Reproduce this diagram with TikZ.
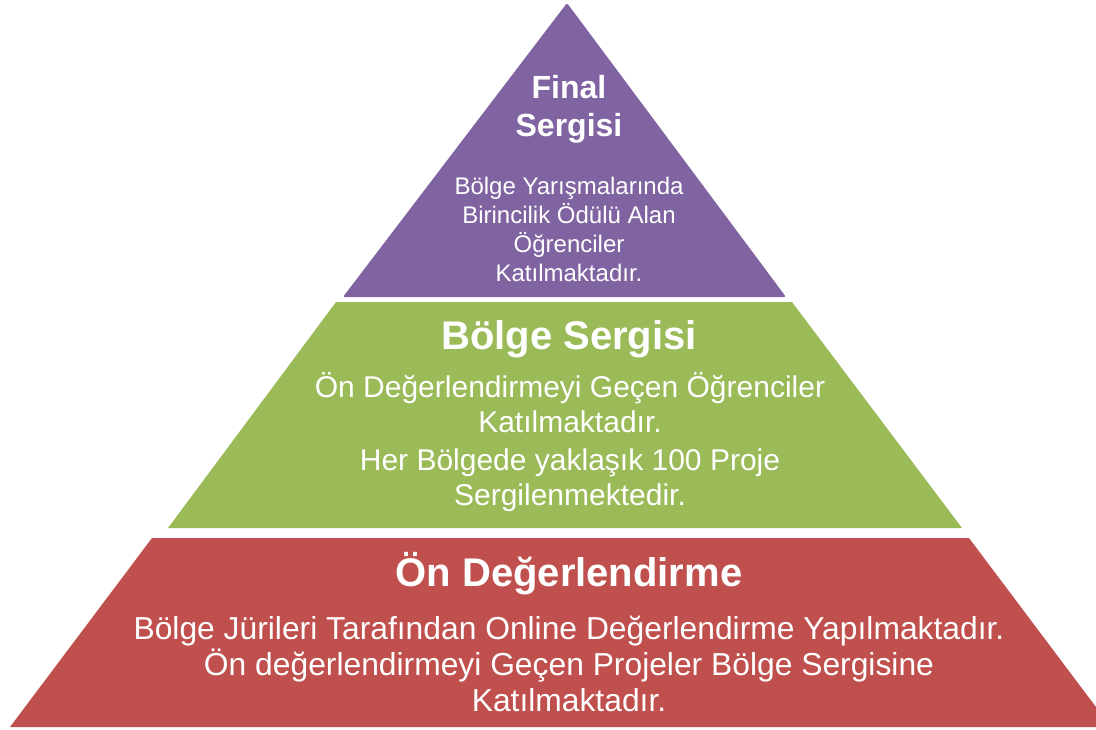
\documentclass[tikz,border=0pt]{standalone}
\usepackage{fontspec}
\setmainfont{Liberation Sans}
\definecolor{katmor}{HTML}{8064A2}
\definecolor{katyesil}{HTML}{9BBB59}
\definecolor{katkirmizi}{HTML}{C0504D}
\tikzset{
	baslik/.style={text=white, align=center, inner sep=0pt, anchor=base, font=\fontsize{40}{48}\selectfont\bfseries},
	metin/.style={text=white, align=center, inner sep=0pt, anchor=base}
}

\begin{document}
\begin{tikzpicture}[x=1pt,y=-1pt]
		\clip (0,0) rectangle (1096,729);
		% Final Sergisi
		\coordinate (T) at (567,3);
		\coordinate (A) at (343,297);
		\coordinate (B) at (786,297);
		\fill [katmor, rounded corners=2pt] (T) -- (B) -- (A) -- cycle;
		% Bolge Sergisi
		\coordinate (C) at (336,302);
		\coordinate (D) at (792,302);
		\coordinate (E) at (962,528);
		\coordinate (F) at (168,528);
		\fill [katyesil] (C) -- (D) -- (E) -- (F) -- cycle;
		% On Degerlendirme
		\coordinate (G) at (152,538);
		\coordinate (H) at (969,538);
		\coordinate (I) at (1111,727);
		\coordinate (J) at (10,727);
		\fill [katkirmizi] (G) -- (H) -- (I) -- (J) -- cycle;
		% texts, placed at the baseline of their last line
		\node [baslik, font=\fontsize{32}{38}\selectfont\bfseries] (finalBaslik) at (569,136) {Final\\Sergisi};
		\node [metin, font=\fontsize{24}{28.7}\selectfont] (finalMetin) at (569,281) {Bölge Yarışmalarında\\Birincilik Ödülü Alan\\Öğrenciler\\Katılmaktadır.};
		\node [baslik] (bolgeBaslik) at (569,349) {Bölge Sergisi};
		\node [metin, font=\fontsize{30}{34.5}\selectfont] (bolgeMetin) at (570,505) {Ön Değerlendirmeyi Geçen Öğrenciler\\Katılmaktadır.\\[4pt]Her Bölgede yaklaşık 100 Proje\\Sergilenmektedir.};
		\node [baslik] (onBaslik) at (569,586) {Ön Değerlendirme};
		\node [metin, font=\fontsize{31.8}{36}\selectfont] (onMetin) at (569,711) {Bölge Jürileri Tarafından Online Değerlendirme Yapılmaktadır.\\Ön değerlendirmeyi Geçen Projeler Bölge Sergisine\\Katılmaktadır.};
\end{tikzpicture}
\end{document}
